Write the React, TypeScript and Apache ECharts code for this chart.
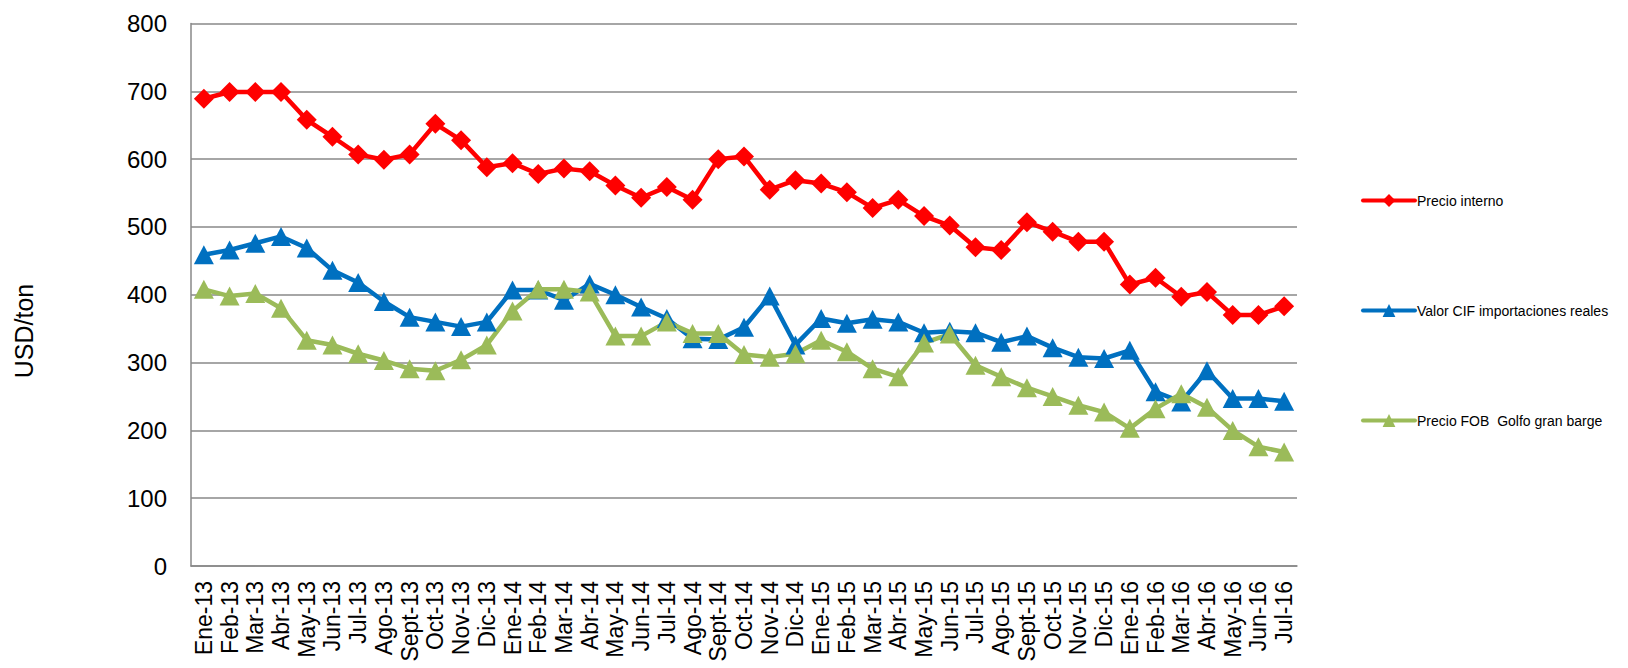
import React, { useEffect, useRef } from "react";
import * as echarts from "echarts";

const categories = [
  "Ene-13", "Feb-13", "Mar-13", "Abr-13", "May-13", "Jun-13", "Jul-13", "Ago-13", "Sept-13", "Oct-13", "Nov-13", "Dic-13",
  "Ene-14", "Feb-14", "Mar-14", "Abr-14", "May-14", "Jun-14", "Jul-14", "Ago-14", "Sept-14", "Oct-14", "Nov-14", "Dic-14",
  "Ene-15", "Feb-15", "Mar-15", "Abr-15", "May-15", "Jun-15", "Jul-15", "Ago-15", "Sept-15", "Oct-15", "Nov-15", "Dic-15",
  "Ene-16", "Feb-16", "Mar-16", "Abr-16", "May-16", "Jun-16", "Jul-16",
];

const precioInterno = [
  689, 699, 699, 699, 658, 633, 607, 599, 607, 652, 628, 588,
  594, 578, 586, 582, 561, 543, 559, 540, 600, 604, 555, 569,
  564, 551, 528, 540, 516, 502, 470, 466, 507, 493, 478, 478,
  415, 425, 397, 404, 370, 370, 383,
];

const valorCIF = [
  459, 466, 476, 486, 469, 436, 418, 390, 367, 360, 353, 360,
  407, 407, 392, 416, 400, 382, 365, 335, 334, 352, 398, 326,
  365, 358, 364, 360, 344, 346, 344, 330, 339, 322, 308, 306,
  318, 257, 242, 288, 247, 247, 243,
];

const precioFOB = [
  408, 398, 402, 380, 333, 326, 313, 303, 291, 288, 304, 326,
  376, 408, 408, 404, 339, 339, 360, 343, 343, 312, 308, 313,
  333, 316, 291, 279, 329, 342, 296, 279, 263, 250, 237, 227,
  203, 232, 254, 234, 200, 176, 168,
];

const seriesNames = ["Precio interno", "Valor CIF importaciones reales", "Precio FOB  Golfo gran barge"];
const yTicks = { min: 0, max: 800, interval: 100 };
const yAxisName = "USD/ton";

const FONT = "'Liberation Sans', Arial, sans-serif";

export default function App() {
  const ref = useRef<HTMLDivElement>(null);

  useEffect(() => {
    document.body.style.margin = "0";
    const chart = echarts.init(ref.current!, null, { renderer: "svg" });
    const lineSeries = (name: string, data: number[], color: string, symbol: string, size: any) => ({
      name,
      type: "line",
      data,
      symbol,
      symbolSize: size,
      lineStyle: { color, width: 4.5 },
      itemStyle: { color },
      emphasis: { disabled: true },
    });
    chart.setOption({
      animation: false,
      backgroundColor: "#ffffff",
      textStyle: { fontFamily: FONT },
      grid: { left: 191, right: 331, top: 23.5, bottom: 102, containLabel: false },
      legend: {
        orient: "vertical",
        left: 1356,
        top: 188.5,
        itemWidth: 52,
        itemHeight: 16,
        itemGap: 96,
        lineStyle: { width: 4, cap: "round" },
        textStyle: { fontSize: 14, color: "#000", fontFamily: FONT, padding: [0, 0, 0, -3] },
        data: seriesNames,
      },
      xAxis: {
        type: "category",
        data: categories,
        boundaryGap: true,
        axisLine: { show: true, lineStyle: { color: "#888888", width: 1.5 } },
        axisTick: { show: false },
        axisLabel: {
          interval: 0,
          rotate: 90,
          margin: 15,
          fontSize: 23,
          color: "#000",
          fontFamily: FONT,
        },
      },
      yAxis: {
        type: "value",
        min: yTicks.min,
        max: yTicks.max,
        interval: yTicks.interval,
        axisLine: { show: true, lineStyle: { color: "#888888", width: 1.5 } },
        axisTick: { show: false },
        splitLine: { show: true, lineStyle: { color: "#888888", width: 1.5 } },
        axisLabel: { fontSize: 24, color: "#000", margin: 24, fontFamily: FONT },
      },
      graphic: [
        {
          type: "text",
          x: 23.5,
          y: 331,
          rotation: Math.PI / 2,
          style: {
            text: yAxisName,
            fontSize: 25,
            fill: "#000",
            fontFamily: FONT,
            align: "center",
            verticalAlign: "middle",
          },
        },
      ],
      series: [
        lineSeries(seriesNames[0], precioInterno, "#FF0000", "diamond", [20, 20]),
        lineSeries(seriesNames[1], valorCIF, "#0070C0", "triangle", [20, 19]),
        lineSeries(seriesNames[2], precioFOB, "#9BBB59", "triangle", [20, 19]),
      ],
    });
    return () => chart.dispose();
  }, []);

  return <div ref={ref} style={{ width: 1628, height: 668 }} />;
}
